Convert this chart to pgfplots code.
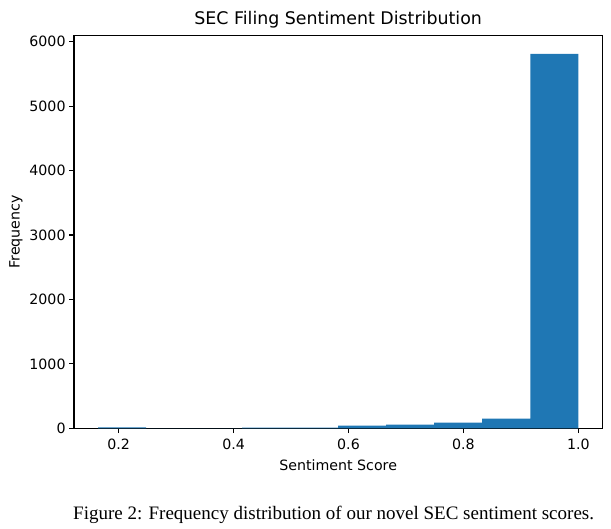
\documentclass[border=0pt]{standalone}
\usepackage{fontspec}
\setmainfont{DejaVu Sans}
\newfontfamily\capfont{Liberation Serif}
\usepackage{pgfplots}
\pgfplotsset{compat=1.18}
\definecolor{mplblue}{HTML}{1F77B4}

\begin{document}
\begin{tikzpicture}[x=1pt,y=1pt]
\useasboundingbox (0,0) rectangle (611,529);
\begin{axis}[
    at={(74pt,100.7pt)}, anchor=south west,
    scale only axis,
    width=528.3pt, height=393pt,
    xmin=0.1222, xmax=1.0418,
    ymin=0, ymax=6100,
    xtick={0.2,0.4,0.6,0.8,1.0},
    ytick={0,1000,2000,3000,4000,5000,6000},
    xtick pos=bottom, ytick pos=left,
    tick align=outside,
    major tick length=4.9pt,
    axis line style={line width=1.1pt},
    every tick/.style={line width=1.1pt, black},
    tick label style={font=\fontsize{14.2}{16}\selectfont},
    /pgf/number format/assume math mode=true,
    xticklabel style={yshift=-2pt, /pgf/number format/.cd, fixed, fixed zerofill, precision=1},
    yticklabel style={/pgf/number format/.cd, set thousands separator={}},
    scaled y ticks=false,
    title={SEC Filing Sentiment Distribution},
    title style={font=\fontsize{17.4}{20}\selectfont, yshift=-2pt},
    xlabel={Sentiment Score},
    ylabel={Frequency},
    label style={font=\fontsize{14.2}{16}\selectfont},
    xlabel style={yshift=-3.5pt},
]
\addplot[ybar interval, fill=mplblue, draw=none] coordinates {
    (0.1640,15) (0.2476,0) (0.3312,0) (0.4148,12) (0.4984,12)
    (0.5820,40) (0.6656,57) (0.7492,88) (0.8328,150) (0.9164,5810)
    (1.0000,0)
};
\end{axis}
\node[anchor=base west, inner sep=0pt, font=\capfont\fontsize{19}{22}\selectfont] at (73,9.7)
    {Figure 2: Frequency distribution of our novel SEC sentiment scores.};
\end{tikzpicture}
\end{document}
